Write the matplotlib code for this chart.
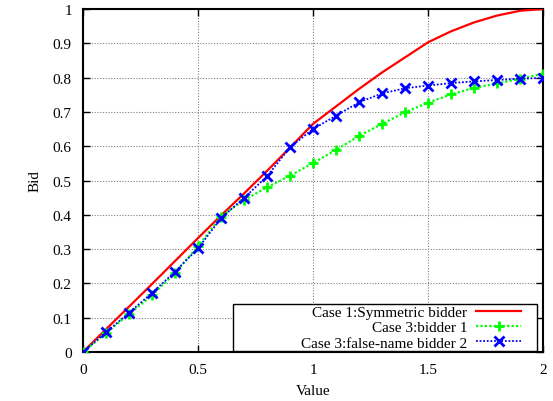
import matplotlib
matplotlib.use("Agg")
import matplotlib.pyplot as plt
from matplotlib.patches import Rectangle

plt.rcParams['font.family'] = ['Liberation Serif', 'DejaVu Serif']

values = [0.0, 0.1, 0.2, 0.3, 0.4, 0.5, 0.6, 0.7, 0.8, 0.9, 1.0,
          1.1, 1.2, 1.3, 1.4, 1.5, 1.6, 1.7, 1.8, 1.9, 2.0]
sym_bid = [0.0, 0.066, 0.132, 0.198, 0.265, 0.332, 0.398, 0.462, 0.528, 0.596, 0.665,
           0.716, 0.767, 0.815, 0.859, 0.903, 0.935, 0.961, 0.981, 0.995, 1.0]
bidder1 = [0.0, 0.055, 0.110, 0.165, 0.230, 0.308, 0.395, 0.443, 0.480, 0.514, 0.551,
           0.589, 0.630, 0.665, 0.699, 0.727, 0.751, 0.770, 0.783, 0.796, 0.812]
bidder2 = [0.0, 0.057, 0.114, 0.172, 0.234, 0.302, 0.390, 0.449, 0.512, 0.597, 0.650,
           0.689, 0.728, 0.754, 0.769, 0.777, 0.784, 0.789, 0.793, 0.797, 0.799]

labels = ["Case 1:Symmetric bidder", "Case 3:bidder 1", "Case 3:false-name bidder 2"]
xticks = [0, 0.5, 1, 1.5, 2]
xticklabels = ["0", "0.5", "1", "1.5", "2"]
yticks = [0, 0.1, 0.2, 0.3, 0.4, 0.5, 0.6, 0.7, 0.8, 0.9, 1.0]
yticklabels = ["0", "0.1", "0.2", "0.3", "0.4", "0.5", "0.6", "0.7", "0.8", "0.9", "1"]

fig = plt.figure(figsize=(5.53, 4.02), dpi=100)
ax = fig.add_axes([0.150, 0.122, 0.832, 0.853])

ax.plot(values, sym_bid, color=(1, 0, 0), lw=1.6, label=labels[0], zorder=3)
ax.plot(values, bidder1, color=(0, 1, 0), lw=1.6, ls=(0, (1, 1)), marker='+',
        ms=7, mew=2, label=labels[1], zorder=4)
ax.plot(values, bidder2, color=(0, 0, 1), lw=1.3, ls=(0, (1, 1)), marker='x',
        ms=6.5, mew=2, label=labels[2], zorder=5)

ax.set_xlim(0, 2)
ax.set_ylim(0, 1)
ax.set_xticks(xticks)
ax.set_xticklabels(xticklabels)
ax.set_yticks(yticks)
ax.set_yticklabels(yticklabels)
ax.tick_params(direction='in', length=5, width=1, top=True, right=True,
               labelsize=11, pad=8, colors='black')
ax.grid(True, color='0.5', ls=(0, (1, 1.5)), lw=0.8)
ax.set_axisbelow(True)
for s in ax.spines.values():
    s.set_linewidth(1.5)
    s.set_color('black')

ax.set_xlabel("Value", fontsize=11, labelpad=6)
ax.set_ylabel("Bid", fontsize=11, labelpad=8)

# legend box (gnuplot style, wider than its content)
box = Rectangle((0.327, 0.004), 0.660, 0.136, transform=ax.transAxes,
                facecolor='white', edgecolor='black', lw=1.0, zorder=6)
ax.add_patch(box)

leg = ax.legend(loc='lower right', bbox_to_anchor=(0.958, 0.0),
                markerfirst=False, numpoints=1, fontsize=11,
                handlelength=2.95, handletextpad=0.6, labelspacing=0.1,
                borderpad=0.15, borderaxespad=0.0, frameon=False)
leg.set_zorder(7)

fig.savefig("out.png", dpi=100)
